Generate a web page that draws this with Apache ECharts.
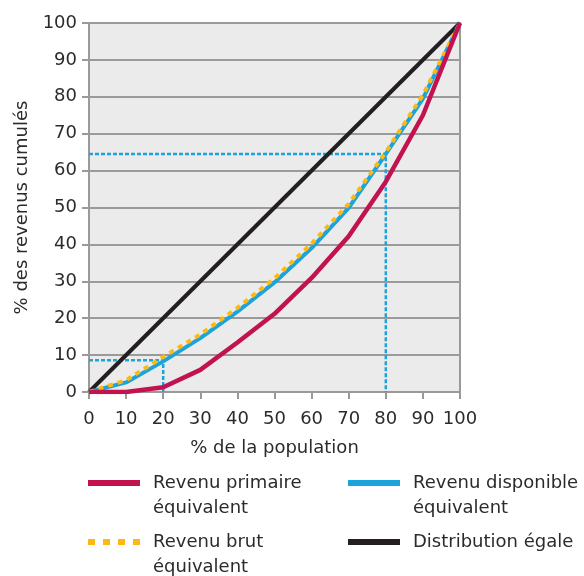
<!DOCTYPE html>
<html>
<head>
<meta charset="utf-8">
<script src="https://cdn.jsdelivr.net/npm/echarts@6/dist/echarts.min.js"></script>
<style>html,body{margin:0;padding:0;background:#fff}#c{width:584px;height:576px}</style>
</head>
<body>
<div id="c"></div>
<script>
const population = [0, 10, 20, 30, 40, 50, 60, 70, 80, 90, 100];
const primaire   = [0, 0, 1.3, 6, 13.4, 21.2, 30.9, 42.2, 57, 75, 100];
const disponible = [0, 2.6, 8.3, 14.6, 21.8, 29.7, 39, 49.9, 64.5, 79.5, 100];
const brut       = [0, 3.2, 9.5, 15.6, 22.8, 30.8, 40.2, 51, 65, 80.5, 100];
const egaleX = [0, 100];
const egaleY = [0, 100];
const ref20X = [0, 20, 20];
const ref20Y = [8.6, 8.6, 0];
const ref80X = [0, 80, 80];
const ref80Y = [64.5, 64.5, 0];
const names = ['Revenu primaire\néquivalent', 'Revenu disponible\néquivalent', 'Revenu brut\néquivalent', 'Distribution égale'];
const ticks = [0, 10, 20, 30, 40, 50, 60, 70, 80, 90, 100];

const zip = (xs, ys) => xs.map((x, i) => [x, ys[i]]);
const FONT = 'DejaVu Sans';
const FS = 18;
const TXT = '#2b2b2b';

const chart = echarts.init(document.getElementById('c'), null, {renderer: 'canvas'});
const legText = {fontFamily: FONT, fontSize: FS, color: TXT, lineHeight: 25, padding: [0, 0, 0, 8]};
const dashIcon = 'path://M0,0h7v6h-7z M15,0h7v6h-7z M30,0h7v6h-7z M45,0h7v6h-7z';
function leg(name, left, top, icon, twoLines) {
  return {orient: 'vertical', left: left, top: top, padding: 0, itemWidth: 52, itemHeight: 6,
    icon: icon || 'rect', data: [name], textStyle: legText, selectedMode: false,
    formatter: n => twoLines ? '\n' + n : n};
}
chart.setOption({
  animation: false,
  grid: {
    left: 89, right: 124, top: 23, bottom: 184,
    show: true, backgroundColor: '#ebebeb', borderColor: '#9a9a9a', borderWidth: 2
  },
  xAxis: {
    type: 'value', min: 0, max: 100, interval: 10,
    name: '% de la population', nameLocation: 'middle', nameGap: 47,
    nameTextStyle: {fontFamily: FONT, fontSize: FS, color: TXT},
    axisLine: {lineStyle: {color: '#9a9a9a', width: 2}},
    axisTick: {show: true, length: 7, lineStyle: {color: '#9a9a9a', width: 2}},
    axisLabel: {fontFamily: FONT, fontSize: FS, color: TXT, margin: 18,
      formatter: v => ticks.includes(v) ? String(v) : ''},
    splitLine: {show: false}
  },
  yAxis: {
    type: 'value', min: 0, max: 100, interval: 10,
    name: '% des revenus cumulés', nameLocation: 'middle', nameGap: 58,
    nameTextStyle: {fontFamily: FONT, fontSize: FS, color: TXT},
    axisLine: {show: true, lineStyle: {color: '#9a9a9a', width: 2}},
    axisTick: {show: true, length: 7, lineStyle: {color: '#9a9a9a', width: 2}},
    axisLabel: {fontFamily: FONT, fontSize: FS, color: TXT, margin: 12},
    splitLine: {show: true, lineStyle: {color: '#9a9a9a', width: 2}}
  },
  legend: [
    leg(names[0], 88, 445.5, null, true),
    leg(names[2], 88, 504.5, dashIcon, true),
    leg(names[1], 348, 445.5, null, true),
    leg(names[3], 348, 529.5, null, false)
  ],
  series: [
    {
      type: 'line', name: 'ref20', data: zip(ref20X, ref20Y), symbol: 'none', silent: true,
      lineStyle: {color: '#1ca3d9', width: 2.5, type: [4, 2]}, z: 1
    },
    {
      type: 'line', name: 'ref80', data: zip(ref80X, ref80Y), symbol: 'none', silent: true,
      lineStyle: {color: '#1ca3d9', width: 2.5, type: [4, 2]}, z: 1
    },
    {
      type: 'line', name: names[3], data: zip(egaleX, egaleY), symbol: 'none',
      color: '#231f20', lineStyle: {color: '#231f20', width: 4}, z: 2
    },
    {
      type: 'line', name: names[1], data: zip(population, disponible), symbol: 'none',
      color: '#1ca3d9', lineStyle: {color: '#1ca3d9', width: 4}, z: 3
    },
    {
      type: 'line', name: names[2], data: zip(population, brut), symbol: 'none',
      color: '#fdb913', lineStyle: {color: '#fdb913', width: 4, type: [5, 5]}, z: 4
    },
    {
      type: 'line', name: names[0], data: zip(population, primaire), symbol: 'none',
      color: '#c2124f', lineStyle: {color: '#c2124f', width: 4.5}, z: 5
    }
  ]
});
</script>
</body>
</html>
